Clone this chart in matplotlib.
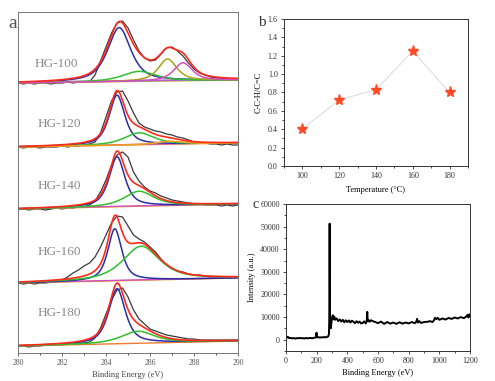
import numpy as np
import matplotlib.pyplot as plt
from matplotlib.ticker import MultipleLocator

plt.rcParams['font.family'] = ['Liberation Serif', 'DejaVu Serif']

# ---- panel a: C 1s high resolution spectra ----
samples = ['HG-100', 'HG-120', 'HG-140', 'HG-160', 'HG-180']
offsets = [270, 206, 144, 70, 7]
label_y = [289, 229, 167, 101, 40]
label_x = [280.75, 280.9, 280.9, 280.9, 280.9]
baseline_rise = [3, 4, 5, 5, 5]

energy_c1s = np.arange(280, 290.01, 0.25)
raw_100 = [0, -1, 0, -1, 0, 0, -1, 0, 0, 1, 0, 1, 1, 1, 8, 22, 36, 50, 60, 62, 55,
           43, 32, 25, 22, 23, 29, 35, 36, 32, 27, 20, 14, 10, 8, 6, 5, 5, 4, 4, 3]
raw_120 = [0, -1, 0, 0, -1, 0, 0, 0, 1, 0, 1, 1, 2, 3, 5, 14, 30, 46, 55, 56, 46,
           34, 24, 20, 18, 16, 15, 13, 12, 10, 9, 7, 5, 4, 4, 3, 3, 2, 3, 2, 2]
raw_140 = [0, 0, -1, 0, 0, -1, 0, 1, 0, 1, 1, 2, 2, 4, 8, 17, 29, 44, 54, 57, 52,
           37, 28, 22, 18, 16, 13, 11, 9, 8, 7, 6, 5, 5, 4, 4, 4, 3, 4, 3, 4]
raw_160 = [0, -1, 0, -1, 0, 0, 1, 1, 3, 6, 10, 13, 17, 20, 26, 36, 48, 60, 67, 66, 57,
           48, 44, 41, 36, 31, 24, 18, 14, 12, 11, 9, 8, 8, 7, 6, 6, 6, 5, 6, 6]
raw_180 = [0, 0, -1, 0, 0, 1, 1, 1, 1, 2, 2, 3, 3, 4, 8, 18, 32, 46, 56, 58, 49,
           36, 27, 22, 17, 15, 13, 11, 10, 9, 8, 7, 7, 6, 6, 6, 6, 6, 6, 6, 6]
raw_spectra = [raw_100, raw_120, raw_140, raw_160, raw_180]

# fitted components: centre (eV), height, fwhm (eV)
peak_centers = [[284.6, 285.5, 286.8, 287.5], [284.5, 285.5, 286.9],
                [284.5, 285.5], [284.4, 285.6], [284.5, 285.45]]
peak_heights = [[54, 10, 22, 18], [50, 12, 3], [50, 15], [52, 34], [55, 12]]
peak_fwhm = [[1.25, 1.8, 1.0, 1.0], [0.85, 1.6, 1.5], [0.85, 1.6], [0.75, 2.0], [0.9, 1.8]]
peak_colors = [['#2a2ea6', '#2fbf2f', '#a9a31b', '#cf4fc3'],
               ['#2a2ea6', '#2fbf2f', '#f0a020'],
               ['#2a2ea6', '#2fbf2f'],
               ['#2a2ea6', '#2fbf2f'],
               ['#2a2ea6', '#2fbf2f']]
base_colors = [['#f0a020', '#40c0c8', '#cf4fc3'], ['#f0a020', '#cf4fc3'],
               ['#f0a020', '#cf4fc3'], ['#f0a020', '#cf4fc3'], ['#f07a30']]

# ---- panel b ----
temperature = [100, 120, 140, 160, 180]
ratio = [0.40, 0.72, 0.83, 1.25, 0.80]

# ---- panel c: survey spectrum ----
survey_e = [0, 5, 10, 15, 20, 30, 40, 50, 60, 70, 80, 90, 100, 110, 120, 130, 140, 150,
            160, 170, 180, 190, 196, 199, 201, 204, 210, 220, 230, 240, 250, 260, 270,
            276, 280, 282, 283.5, 284.5, 285.5, 287, 289, 292, 296, 300, 305, 310, 315,
            320, 330, 340, 350, 360, 370, 380, 390, 400, 410, 420, 430, 440, 450, 460,
            470, 480, 490, 500, 510, 520, 526, 530, 532, 534, 538, 545, 555, 565, 580,
            600, 620, 640, 660, 680, 700, 720, 740, 760, 780, 800, 820, 840, 850, 855,
            860, 870, 880, 900, 920, 940, 955, 965, 972, 980, 990, 1000, 1020, 1040,
            1060, 1080, 1100, 1120, 1140, 1160, 1175, 1185, 1190, 1195, 1200]
survey_i = [500, 900, 1300, 1100, 700, 800, 600, 700, 500, 700, 600, 800, 600, 700, 500,
            800, 600, 700, 800, 600, 800, 900, 1100, 3100, 1400, 1000, 1200, 900, 1100,
            1000, 1200, 1000, 1300, 1500, 2500, 9000, 30000, 51300, 30000, 12000, 6000,
            5000, 7500, 9500, 10800, 9000, 10200, 8800, 9400, 8200, 9000, 8000, 8800,
            7700, 8600, 7800, 8500, 7600, 8400, 7900, 7300, 8200, 7500, 8000, 7200,
            7400, 8100, 7200, 8000, 12300, 9000, 8300, 8800, 7900, 8600, 8200, 7900, 7300,
            8000, 7000, 7800, 7100, 7600, 7000, 7700, 7100, 7600, 7200, 7800, 7300, 8000,
            9200, 7600, 8200, 7400, 7800, 7900, 8200, 7800, 8600, 9700, 9100, 9600, 8800,
            9400, 8900, 9600, 9200, 9800, 9400, 10000, 9500, 10200, 11000, 9800, 11200,
            10500]


def pseudo_voigt(x, center, height, fwhm, eta=0.7):
    dx = (x - center) / fwhm
    lor = 1.0 / (1.0 + 4.0 * dx ** 2)
    gau = np.exp(-4.0 * np.log(2) * dx ** 2)
    return height * (eta * lor + (1 - eta) * gau)


fig = plt.figure(figsize=(4.95, 3.81), dpi=100)

# panel a
ax = fig.add_axes([0.0364, 0.0735, 0.4444, 0.895])
fine = np.linspace(280, 290, 401)
for k, name in enumerate(samples):
    off = offsets[k]
    base = off + baseline_rise[k] * (fine - 280) / 10.0
    ax.plot(energy_c1s, np.array(raw_spectra[k]) + off, color='#3a3a3a', lw=0.9)
    for j, c in enumerate(base_colors[k]):
        ax.plot(fine, base + 0.4 * j, color=c, lw=1.0)
    total = np.zeros_like(fine)
    for c0, h, w, col in zip(peak_centers[k], peak_heights[k], peak_fwhm[k], peak_colors[k]):
        comp = pseudo_voigt(fine, c0, h, w)
        total += comp
        ax.plot(fine, base + comp, color=col, lw=1.1)
    ax.plot(fine, base + total, color='#ff2a1a', lw=1.2)
    ax.text(label_x[k], label_y[k], name, color='#8a8a8a',
            fontsize=9.5, va='center', ha='left')
ax.set_xlim(280, 290)
ax.set_ylim(0, 341)
ax.set_yticks([])
ax.xaxis.set_major_locator(MultipleLocator(2))
ax.xaxis.set_minor_locator(MultipleLocator(1))
ax.tick_params(axis='x', labelsize=5.5, length=2.5, width=0.6, colors='#555555', pad=2)
ax.tick_params(axis='x', which='minor', length=1.5, width=0.5)
for s in ax.spines.values():
    s.set_color('#777777')
    s.set_linewidth(0.7)
ax.set_xlabel('Binding Energy (eV)', fontsize=6, color='#444444', labelpad=3)
fig.text(8 / 495, 1 - 23 / 381, 'a', fontsize=14, color='#555555', va='center', ha='left')

# panel b
bx = fig.add_axes([0.5737, 0.5643, 0.3717, 0.386])
bx.plot(temperature, ratio, color='#dedede', lw=0.8, zorder=1)
bx.plot(temperature, ratio, ls='none', marker='*', ms=8, color='#ff4a25', zorder=2)
bx.set_xlim(90, 190)
bx.set_ylim(0, 1.6)
bx.xaxis.set_major_locator(MultipleLocator(20))
bx.xaxis.set_minor_locator(MultipleLocator(10))
bx.yaxis.set_major_locator(MultipleLocator(0.2))
bx.yaxis.set_minor_locator(MultipleLocator(0.1))
bx.yaxis.set_major_formatter(plt.FormatStrFormatter('%.1f'))
bx.tick_params(labelsize=5.8, length=2.5, width=0.6, pad=2, colors='#333333')
bx.tick_params(which='minor', length=1.5, width=0.5)
for s in bx.spines.values():
    s.set_linewidth(0.7)
    s.set_color('#333333')
bx.set_xlabel('Temperature (°C)', fontsize=6, labelpad=4)
bx.set_ylabel('C-C-H/C=C', fontsize=6, labelpad=4)
fig.text(258 / 495, 1 - 22 / 381, 'b', fontsize=11, va='center', ha='left', color='#333333')

# panel c
cx = fig.add_axes([0.5778, 0.0787, 0.3717, 0.386])
cx.plot(survey_e, survey_i, color='black', lw=1.4)
cx.set_xlim(0, 1200)
cx.set_ylim(-5000, 60000)
cx.xaxis.set_major_locator(MultipleLocator(200))
cx.xaxis.set_minor_locator(MultipleLocator(100))
cx.yaxis.set_major_locator(MultipleLocator(10000))
cx.yaxis.set_minor_locator(MultipleLocator(5000))
cx.tick_params(labelsize=5.8, length=2.5, width=0.6, pad=2, colors='#333333')
cx.tick_params(which='minor', length=1.5, width=0.5)
for s in cx.spines.values():
    s.set_linewidth(0.7)
    s.set_color('#333333')
cx.set_xlabel('Binding Energy (eV)', fontsize=6, labelpad=3)
cx.set_ylabel('Intensity (a.u.)', fontsize=6, labelpad=3)
fig.text(253 / 495, 1 - 205 / 381, 'c', fontsize=10, va='center', ha='left', color='#333333')

fig.savefig('out.png', dpi=100)
